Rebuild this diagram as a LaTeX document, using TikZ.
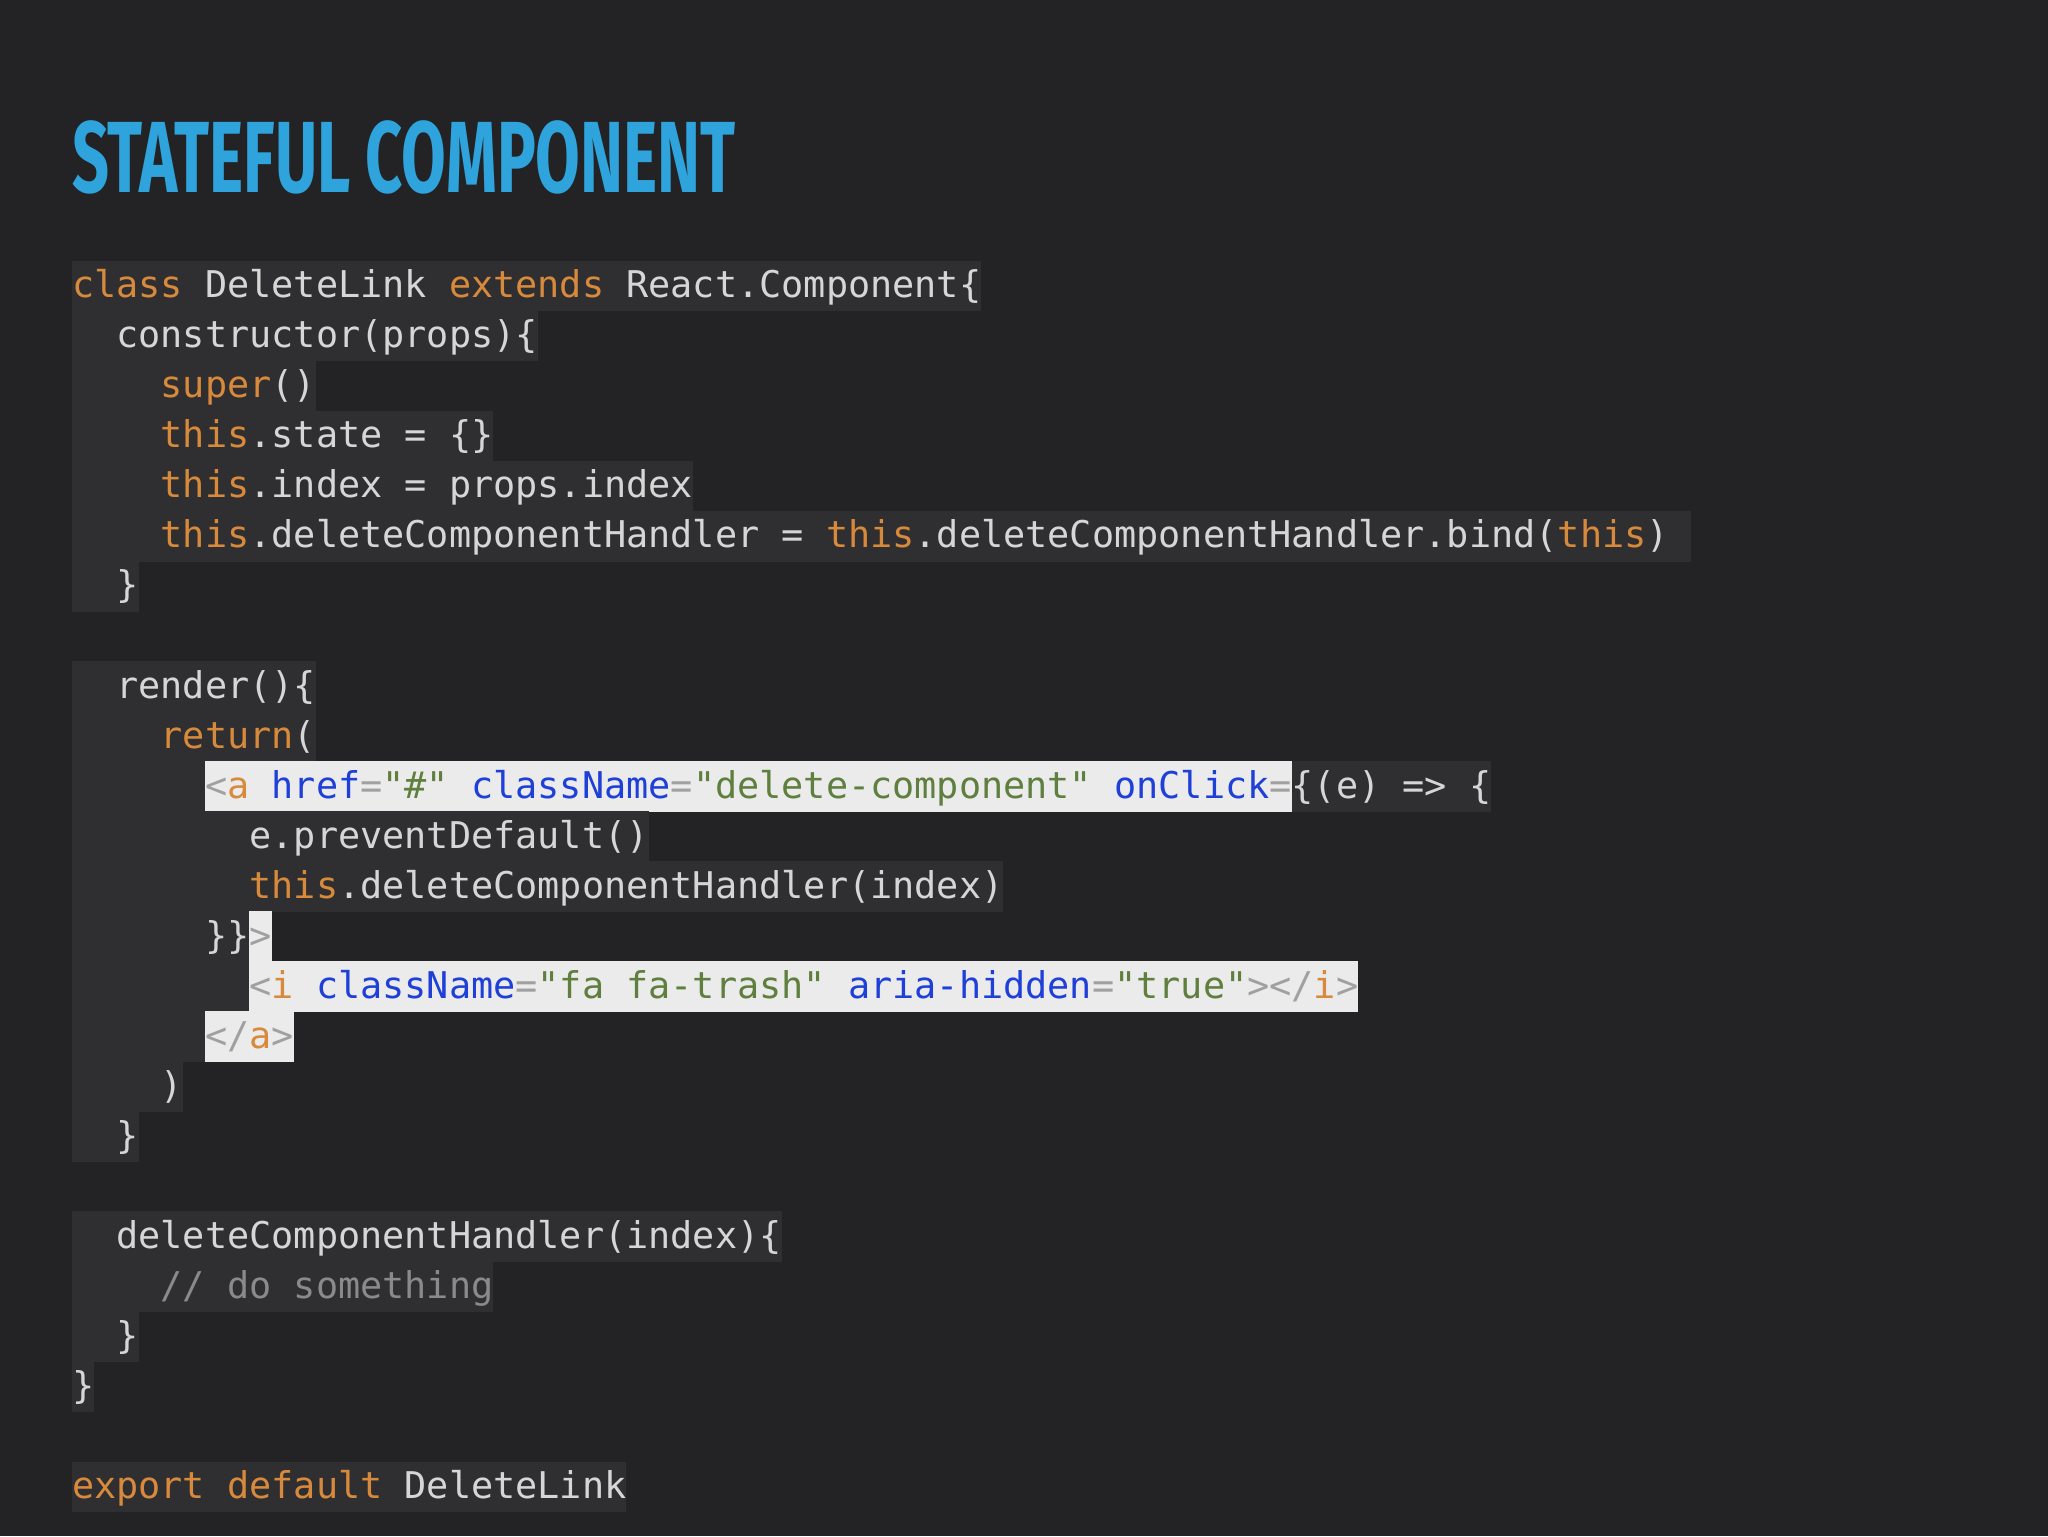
\documentclass[tikz,border=0pt]{standalone}
\usepackage{fontspec}
\usepackage{graphicx}
\setmainfont{Fira Sans}
\setmonofont{DejaVu Sans Mono}
\definecolor{bgc}{HTML}{232325}
\definecolor{dk}{HTML}{2F2F31}
\definecolor{wh}{HTML}{EBEBEB}
\definecolor{pl}{HTML}{D6D6D6}
\definecolor{kwc}{HTML}{D88A3C}
\definecolor{atc}{HTML}{1E3FD8}
\definecolor{stc}{HTML}{5F7F3F}
\definecolor{tbc}{HTML}{A0A0A0}
\definecolor{cmc}{HTML}{8A8A8A}
\definecolor{ttl}{HTML}{2EA3DC}
\newcommand\kw[1]{\textcolor{kwc}{#1}}
\newcommand\at[1]{\textcolor{atc}{#1}}
\newcommand\st[1]{\textcolor{stc}{#1}}
\newcommand\tb[1]{\textcolor{tbc}{#1}}
\newcommand\sg[2]{{\fboxsep0pt\colorbox{#1}{\vrule height 28.2pt depth 10.4pt width 0pt #2}}}
\tikzset{codeline/.style={anchor=base west,inner sep=0pt,text=pl,font=\fontsize{28.2}{38}\ttfamily}}
\begin{document}
\begin{tikzpicture}[x=1pt,y=-1pt]
\fill[bgc] (0,0) rectangle (1568,1176);
\useasboundingbox (0,0) rectangle (1568,1176);
\node[anchor=base west,inner sep=0pt,text=ttl,font=\bfseries] (title) at (55,147) {\resizebox{508pt}{55pt}{STATEFUL COMPONENT}};
\def\bl#1{228+38.3*#1}
\node[codeline] (l1) at (55,{\bl{0}}) {\sg{dk}{\kw{class} DeleteLink \kw{extends} React.Component\{}};
\node[codeline] (l2) at (55,{\bl{1}}) {\sg{dk}{~~constructor(props)\{}};
\node[codeline] (l3) at (55,{\bl{2}}) {\sg{dk}{~~~~\kw{super}()}};
\node[codeline] (l4) at (55,{\bl{3}}) {\sg{dk}{~~~~\kw{this}.state = \{\}}};
\node[codeline] (l5) at (55,{\bl{4}}) {\sg{dk}{~~~~\kw{this}.index = props.index}};
\node[codeline] (l6) at (55,{\bl{5}}) {\sg{dk}{~~~~\kw{this}.deleteComponentHandler = \kw{this}.deleteComponentHandler.bind(\kw{this})~}};
\node[codeline] (l7) at (55,{\bl{6}}) {\sg{dk}{~~\}}};
\node[codeline] (l9) at (55,{\bl{8}}) {\sg{dk}{~~render()\{}};
\node[codeline] (l10) at (55,{\bl{9}}) {\sg{dk}{~~~~\kw{return}(}};
\node[codeline] (l11) at (55,{\bl{10}}) {\sg{dk}{~~~~~~}\sg{wh}{\tb{<}\kw{a} \at{href}\tb{=}\st{"\#"} \at{className}\tb{=}\st{"delete-component"} \at{onClick}\tb{=}}\sg{dk}{\{(e) => \{}};
\node[codeline] (l12) at (55,{\bl{11}}) {\sg{dk}{~~~~~~~~e.preventDefault()}};
\node[codeline] (l13) at (55,{\bl{12}}) {\sg{dk}{~~~~~~~~\kw{this}.deleteComponentHandler(index)}};
\node[codeline] (l14) at (55,{\bl{13}}) {\sg{dk}{~~~~~~\}\}}\sg{wh}{\tb{>}}};
\node[codeline] (l15) at (55,{\bl{14}}) {\sg{dk}{~~~~~~~~}\sg{wh}{\tb{<}\kw{i} \at{className}\tb{=}\st{"fa fa-trash"} \at{aria-hidden}\tb{=}\st{"true"}\tb{></}\kw{i}\tb{>}}};
\node[codeline] (l16) at (55,{\bl{15}}) {\sg{dk}{~~~~~~}\sg{wh}{\tb{</}\kw{a}\tb{>}}};
\node[codeline] (l17) at (55,{\bl{16}}) {\sg{dk}{~~~~)}};
\node[codeline] (l18) at (55,{\bl{17}}) {\sg{dk}{~~\}}};
\node[codeline] (l20) at (55,{\bl{19}}) {\sg{dk}{~~deleteComponentHandler(index)\{}};
\node[codeline] (l21) at (55,{\bl{20}}) {\sg{dk}{~~~~\textcolor{cmc}{// do something}}};
\node[codeline] (l22) at (55,{\bl{21}}) {\sg{dk}{~~\}}};
\node[codeline] (l23) at (55,{\bl{22}}) {\sg{dk}{\}}};
\node[codeline] (l25) at (55,{\bl{24}}) {\sg{dk}{\kw{export default} DeleteLink}};
\end{tikzpicture}
\end{document}
